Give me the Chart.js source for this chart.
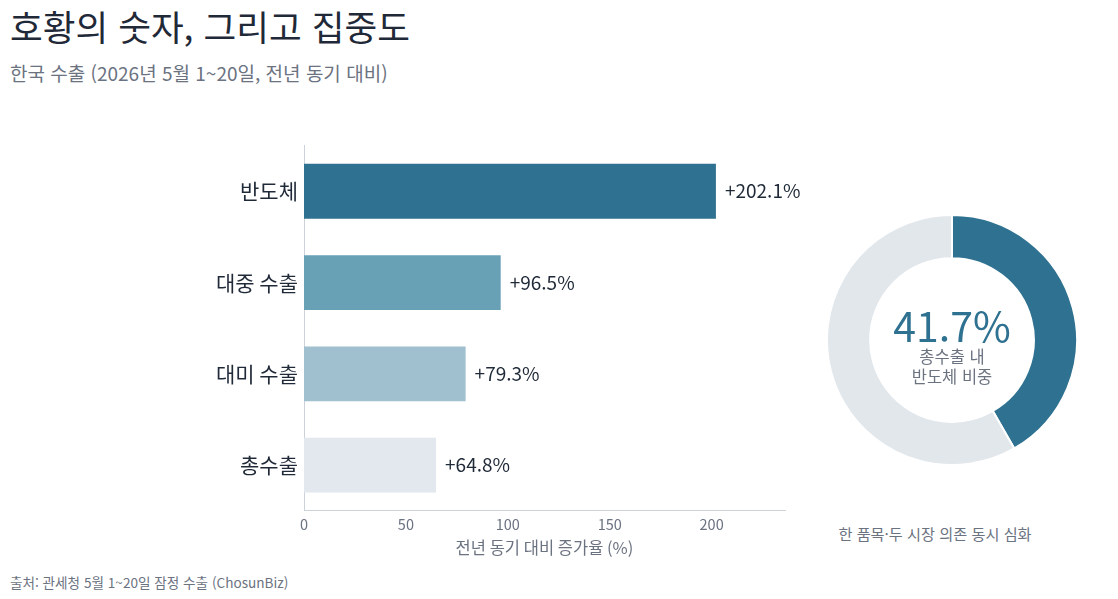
<!DOCTYPE html>
<html lang="ko">
<head>
<meta charset="utf-8">
<script src="https://cdn.jsdelivr.net/npm/chart.js@4"></script>
<style>
  html, body { margin:0; padding:0; background:#fff; }
  body { width:1118px; height:599px; position:relative; overflow:hidden; font-family:"Noto Sans CJK KR","Noto Sans",sans-serif; }
  #title { position:absolute; left:10px; top:1px; font-size:35.6px; color:#1f2937; line-height:50px; white-space:nowrap; }
  #subtitle { position:absolute; left:10px; top:59px; font-size:19px; color:#6b7280; line-height:28px; white-space:nowrap; }
  #barWrap { position:absolute; left:0; top:127px; width:800px; height:431px; }
  #donutWrap { position:absolute; left:826px; top:214px; width:252px; height:252px; }
  #center { position:absolute; left:852px; top:300px; width:200px; text-align:center; }
  #pct { font-size:41px; color:#2f7190; line-height:48px; }
  #clabel { font-size:16.5px; color:#6b7280; line-height:20px; margin-top:-2px; }
  #caption { position:absolute; left:820px; top:522px; width:230px; text-align:center; font-size:15.2px; color:#6b7280; line-height:22px; white-space:nowrap; }
  #footer { position:absolute; left:10px; top:572px; font-size:13.6px; color:#6b7280; line-height:20px; white-space:nowrap; }
</style>
</head>
<body>
<div id="title">호황의 숫자, 그리고 집중도</div>
<div id="subtitle">한국 수출 (2026년 5월 1~20일, 전년 동기 대비)</div>
<div id="barWrap"><canvas id="bar"></canvas></div>
<div id="donutWrap"><canvas id="donut"></canvas></div>
<div id="center"><div id="pct">41.7%</div><div id="clabel">총수출 내<br>반도체 비중</div></div>
<div id="caption">한 품목·두 시장 의존 동시 심화</div>
<div id="footer">출처: 관세청 5월 1~20일 잠정 수출 (ChosunBiz)</div>
<script>
const categories = ["반도체", "대중 수출", "대미 수출", "총수출"];
const growthValues = [202.1, 96.5, 79.3, 64.8];
const barColors = ["#2f7190", "#68a0b6", "#a0c0cf", "#e2e8ed"];
const xTicks = [0, 50, 100, 150, 200];
const shareLabels = ["반도체", "기타"];
const shareValues = [41.7, 58.3];
const shareColors = ["#2f7190", "#e2e7ec"];

const FONT = '"Noto Sans CJK KR","Noto Sans",sans-serif';

const valueLabels = {
  id: 'valueLabels',
  afterDatasetsDraw(chart) {
    const ctx = chart.ctx;
    const meta = chart.getDatasetMeta(0);
    ctx.save();
    ctx.font = '19px ' + FONT;
    ctx.fillStyle = '#1f2937';
    ctx.textAlign = 'left';
    ctx.textBaseline = 'middle';
    meta.data.forEach((el, i) => {
      ctx.fillText('+' + growthValues[i].toFixed(1) + '%', el.x + 9, el.y);
    });
    ctx.restore();
  }
};

new Chart(document.getElementById('bar'), {
  type: 'bar',
  data: {
    labels: categories,
    datasets: [{
      data: growthValues,
      backgroundColor: barColors,
      borderColor: barColors,
      borderWidth: 0,
      barPercentage: 0.6,
      categoryPercentage: 1.0
    }]
  },
  options: {
    indexAxis: 'y',
    responsive: true,
    maintainAspectRatio: false,
    animation: false,
    layout: { padding: { top: 5, right: 15, bottom: 0, left: 0 } },
    plugins: { legend: { display: false }, tooltip: { enabled: false } },
    scales: {
      x: {
        min: 0, max: 236,
        afterBuildTicks(scale) { scale.ticks = xTicks.map(v => ({ value: v })); },
        grid: { display: false, drawTicks: false },
        border: { display: true, color: '#cbd2d9', width: 1 },
        ticks: { color: '#6b7280', font: { family: FONT, size: 14.5 }, padding: 5 },
        title: { display: true, text: '전년 동기 대비 증가율 (%)', color: '#6b7280', font: { family: FONT, size: 16.5 }, padding: { top: 0, bottom: 0 } }
      },
      y: {
        afterFit(scale) { scale.width = 304; },
        grid: { display: false, drawTicks: false },
        border: { display: true, color: '#cbd2d9', width: 1 },
        ticks: { color: '#1f2937', font: { family: FONT, size: 21 }, padding: 6 }
      }
    }
  },
  plugins: [valueLabels]
});

new Chart(document.getElementById('donut'), {
  type: 'doughnut',
  data: {
    labels: shareLabels,
    datasets: [{
      data: shareValues,
      backgroundColor: shareColors,
      borderColor: '#ffffff',
      borderWidth: 2
    }]
  },
  options: {
    responsive: true,
    maintainAspectRatio: false,
    animation: false,
    cutout: '65.5%',
    plugins: { legend: { display: false }, tooltip: { enabled: false } }
  }
});
</script>
</body>
</html>
